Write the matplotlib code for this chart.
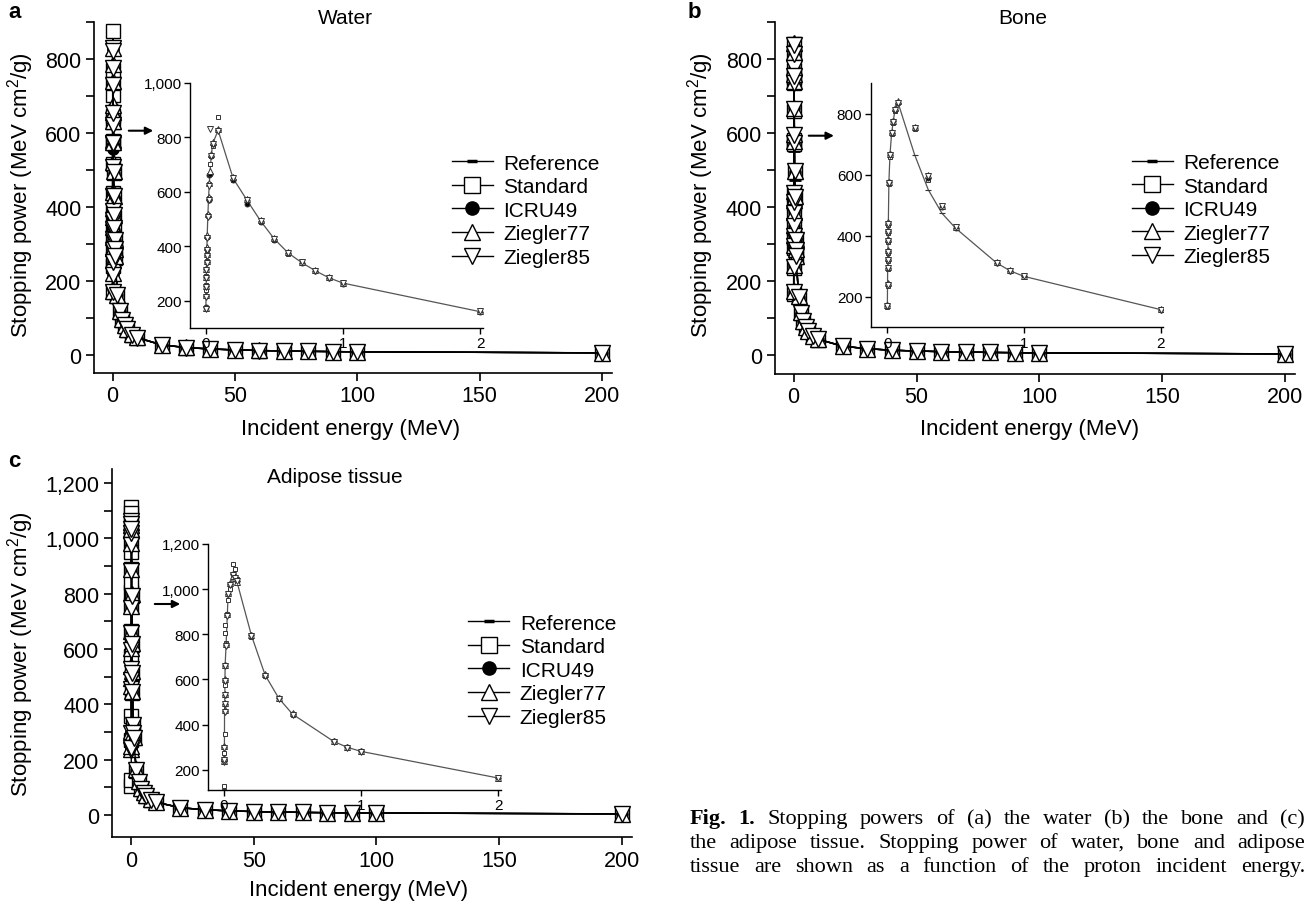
import matplotlib
matplotlib.use('Agg')
from matplotlib import pyplot as plt
from matplotlib.lines import Line2D
from matplotlib.patches import FancyArrowPatch
from matplotlib.ticker import MultipleLocator, FuncFormatter

plt.rcParams['font.family'] = ['Liberation Sans', 'DejaVu Sans']
plt.rcParams['mathtext.fontset'] = 'custom'
plt.rcParams['mathtext.rm'] = 'Liberation Sans'
plt.rcParams['mathtext.default'] = 'regular'

W, H = 1313, 904
FS_TICK = 15.5
FS_LAB = 16
FS_LEG = 15
FS_TITLE = 15
FS_IN = 11

SERIES = ["Reference", "Standard", "ICRU49", "Ziegler77", "Ziegler85"]

# ---- water (MeV, MeV cm2/g)
water_E = [0.001, 0.002, 0.003, 0.004, 0.005, 0.006, 0.007, 0.008, 0.01, 0.015, 0.02, 0.025, 0.03,
           0.04, 0.05, 0.09, 0.2, 0.3, 0.4, 0.5, 0.6, 0.7, 0.8, 0.9, 1, 2, 3, 4, 5, 6, 8, 10,
           20, 30, 40, 50, 60, 70, 80, 90, 100, 200]
water_ref = [177, 218, 254, 286, 315, 342, 367, 390, 433, 511, 573, 625, 667, 732, 777, 826, 649, 570,
             493, 427, 376, 340, 310, 284, 265, 160, 118, 94, 79, 68, 54, 45.7,
             26.1, 18.8, 14.9, 12.5, 10.8, 9.6, 8.6, 7.9, 7.3, 4.5]
water_std = [170, 240, 258, 290, 318, 345, 370, 392, 436, 515, 578, 628, 702, 733, 770, 876, 645, 572,
             490, 425, 372, 337, 308, 282, 262, 158, 116, 92, 78, 67, 53, 45,
             25.8, 18.6, 14.8, 12.4, 10.7, 9.5, 8.5, 7.8, 7.2, 4.4]
water_icru = [176, 218, 254, 286, 315, 342, 367, 390, 433, 511, 570, 661, 667, 732, 777, 826, 645, 557,
              490, 425, 374, 338, 309, 283, 263, 160, 117, 93, 78.5, 67.5, 54, 45.6,
              26, 18.7, 14.9, 12.4, 10.8, 9.6, 8.6, 7.9, 7.3, 4.5]
water_z77 = [172, 220, 256, 288, 318, 346, 372, 396, 440, 520, 580, 631, 675, 740, 785, 830, 655, 575,
             495, 430, 378, 342, 312, 286, 266, 162, 119, 95, 80, 69, 55, 46.5,
             26.5, 19, 15.1, 12.6, 10.9, 9.7, 8.7, 8, 7.4, 4.6]
water_z85 = [170, 215, 250, 283, 312, 340, 365, 388, 430, 508, 570, 622, 830, 730, 775, 822, 652, 572,
             494, 428, 377, 341, 311, 285, 267, 161, 118, 94, 79, 68, 54, 45.8,
             26.2, 18.9, 15, 12.5, 10.8, 9.6, 8.6, 7.9, 7.3, 4.5]

# ---- bone
bone_E = [0.001, 0.002, 0.003, 0.004, 0.005, 0.006, 0.007, 0.008, 0.012, 0.02, 0.032, 0.044, 0.056,
          0.08, 0.2, 0.3, 0.4, 0.5, 0.8, 0.9, 1, 2, 3, 4, 5, 6, 8, 10,
          20, 30, 40, 50, 60, 70, 80, 90, 100, 200]
bone_ref = [171, 240, 295, 322, 349, 384, 415, 440, 575, 666, 737, 775, 813, 835, 666, 551, 474, 425,
            311, 285, 267, 158, 115, 92, 77, 66, 52, 43.5,
            25, 18, 14.2, 11.9, 10.3, 9.1, 8.2, 7.5, 6.9, 4.3]
bone_std = [165, 235, 290, 318, 345, 380, 410, 436, 570, 660, 735, 770, 810, 840, 750, 582, 494, 428,
            310, 284, 266, 157, 114, 91, 76, 65.5, 51.5, 43,
            24.8, 17.9, 14.1, 11.8, 10.2, 9.0, 8.1, 7.4, 6.8, 4.2]
bone_icru = [172, 242, 296, 324, 350, 386, 416, 442, 576, 667, 738, 776, 814, 834, 752, 590, 495, 427,
             311, 285, 267, 158, 115, 92, 77, 66, 52, 43.5,
             25, 18, 14.2, 11.9, 10.3, 9.1, 8.2, 7.5, 6.9, 4.3]
bone_z77 = [174, 244, 298, 326, 352, 388, 418, 444, 578, 668, 740, 778, 818, 842, 758, 598, 498, 430,
            313, 287, 269, 160, 116, 93, 78, 67, 53, 44,
            25.3, 18.2, 14.4, 12, 10.4, 9.2, 8.3, 7.6, 7, 4.4]
bone_z85 = [170, 238, 294, 321, 348, 383, 414, 439, 574, 665, 736, 774, 812, 836, 754, 595, 497, 428,
            311, 285, 267, 158, 115, 92, 77, 66, 52, 43.5,
            25, 18, 14.2, 11.9, 10.3, 9.1, 8.2, 7.5, 6.9, 4.3]

# ---- adipose tissue
adip_E = [0.001, 0.002, 0.003, 0.004, 0.005, 0.006, 0.007, 0.008, 0.015, 0.024, 0.03, 0.044, 0.068,
          0.08, 0.092, 0.2, 0.3, 0.4, 0.5, 0.8, 0.9, 1, 2, 3, 4, 5, 6, 8, 10,
          20, 30, 40, 50, 60, 70, 80, 90, 100, 200]
adip_ref = [237, 244, 299, 458, 491, 531, 597, 660, 751, 884, 979, 1023, 1067, 1053, 1038, 795, 619,
            516, 446, 325, 299, 281, 163, 121, 97, 81, 70, 56, 47,
            27, 19.4, 15.4, 12.9, 11.2, 9.9, 8.9, 8.2, 7.6, 4.7]
adip_std = [105, 128, 273, 359, 575, 666, 807, 840, 760, 890, 950, 1000, 1112, 1090, 1045, 790, 615,
            512, 442, 322, 297, 279, 160, 119, 95, 80, 69, 55, 46.5,
            26.7, 19.2, 15.3, 12.8, 11.1, 9.8, 8.8, 8.1, 7.5, 4.6]
adip_icru = [238, 246, 300, 460, 493, 533, 598, 662, 752, 885, 980, 1024, 1066, 1052, 1037, 796, 620,
             517, 447, 326, 300, 282, 164, 121, 97, 81, 70, 56, 47,
             27, 19.4, 15.4, 12.9, 11.2, 9.9, 8.9, 8.2, 7.6, 4.7]
adip_z77 = [240, 250, 305, 465, 497, 537, 602, 665, 755, 888, 982, 1028, 1060, 1048, 1032, 798, 622,
            519, 449, 327, 301, 283, 165, 122, 98, 82, 71, 57, 47.5,
            27.3, 19.6, 15.6, 13, 11.3, 10, 9, 8.3, 7.7, 4.8]
adip_z85 = [236, 242, 297, 456, 489, 529, 595, 658, 749, 882, 977, 1020, 1062, 1050, 1035, 793, 617,
            514, 444, 324, 298, 280, 162, 120, 96, 80.5, 69.5, 55.5, 46.8,
            26.9, 19.3, 15.3, 12.8, 11.1, 9.8, 8.8, 8.1, 7.5, 4.6]

caption = ["Fig. 1. Stopping powers of (a) the water (b) the bone and (c)",
           "the adipose tissue. Stopping power of water, bone and adipose",
           "tissue are shown as a function of the proton incident energy."]

main_style = {
    "Reference": dict(marker='_', ms=8, mew=2),
    "Standard": dict(marker='s', ms=9.5, mfc='white', mew=1),
    "ICRU49": dict(marker='o', ms=8, mfc='black', mew=1),
    "Ziegler77": dict(marker='^', ms=11, mfc='white', mew=1),
    "Ziegler85": dict(marker='v', ms=11, mfc='white', mew=1),
}
inset_style = {
    "Reference": dict(marker='_', ms=4, mew=0.8),
    "Standard": dict(marker='s', ms=3.4, mfc='white', mew=0.7),
    "ICRU49": dict(marker='o', ms=3.6, mfc='black', mew=0.7),
    "Ziegler77": dict(marker='^', ms=4.5, mfc='white', mew=0.7),
    "Ziegler85": dict(marker='v', ms=4.5, mfc='white', mew=0.7),
}
legend_style = {
    "Reference": dict(marker='_', ms=7, mew=2.5),
    "Standard": dict(marker='s', ms=11, mfc='white', mew=1),
    "ICRU49": dict(marker='o', ms=9.5, mfc='black', mew=1),
    "Ziegler77": dict(marker='^', ms=11.5, mfc='white', mew=1),
    "Ziegler85": dict(marker='v', ms=11.5, mfc='white', mew=1),
}

comma = FuncFormatter(lambda v, p: '{:,.0f}'.format(v))


def px_axes(fig, left, top, right, bottom):
    return fig.add_axes([left / W, 1 - bottom / H, (right - left) / W, (bottom - top) / H])


def style_axes(ax, size, length, lw):
    for s in ['top', 'right']:
        ax.spines[s].set_visible(False)
    for s in ['left', 'bottom']:
        ax.spines[s].set_linewidth(lw)
    ax.tick_params(which='both', direction='out', length=length, width=lw, labelsize=size, pad=3)


panels = [
    dict(E=water_E, data=[water_ref, water_std, water_icru, water_z77, water_z85],
         main=(94, 22.7, 611.6, 374), xlim=(-7.6, 204), ylim=(-50, 900),
         inset=(190, 84, 482.8, 329), ixlim=(-0.115, 2.02), iylim=(100, 1000),
         title="Water", title_px=(345, 18), leg=(451.7, 154.5), arrow=(126, 156, 131.7),
         letter="a", letter_px=(8, 12), ylab=(-0.112, 0.51), xlab=(0.495, -0.128)),
    dict(E=bone_E, data=[bone_ref, bone_std, bone_icru, bone_z77, bone_z85],
         main=(774.5, 22.7, 1295, 375), xlim=(-7.8, 204), ylim=(-50, 900),
         inset=(870.7, 84.3, 1163.4, 328.3), ixlim=(-0.121, 2.02), iylim=(100, 900),
         title="Bone", title_px=(1023, 18), leg=(1131.7, 154), arrow=(806, 836.7, 136.7),
         letter="b", letter_px=(688, 12), ylab=(-0.112, 0.51), xlab=(0.49, -0.125)),
    dict(E=adip_E, data=[adip_ref, adip_std, adip_icru, adip_z77, adip_z85],
         main=(111.9, 470, 631.5, 838.3), xlim=(-7.9, 204), ylim=(-80, 1250),
         inset=(208.1, 545, 501, 791), ixlim=(-0.116, 2.02), iylim=(110, 1200),
         title="Adipose tissue", title_px=(335, 478), leg=(468.3, 614.5), arrow=(152, 183, 605),
         letter="c", letter_px=(8, 462), ylab=(-0.146, 0.5), xlab=(0.474, -0.114)),
]

fig = plt.figure(figsize=(W / 100, H / 100), dpi=100)

for p in panels:
    E = p['E']
    ax = px_axes(fig, *p['main'])
    style_axes(ax, FS_TICK, 6, 1.2)
    for name, vals in zip(SERIES, p['data']):
        ax.plot(E, vals, color='k', lw=1, mec='k', clip_on=False, **main_style[name])
    ax.set_xlim(*p['xlim'])
    ax.set_ylim(*p['ylim'])
    ax.set_xticks([0, 50, 100, 150, 200])
    ax.yaxis.set_minor_locator(MultipleLocator(100))
    ax.set_yticks(range(0, int(p['ylim'][1]) + 1, 200))
    ax.yaxis.set_major_formatter(comma)
    ax.set_ylabel("Stopping power (MeV cm$^2$/g)", fontsize=FS_LAB)
    ax.yaxis.set_label_coords(*p['ylab'])
    ax.set_xlabel("Incident energy (MeV)", fontsize=FS_LAB)
    ax.xaxis.set_label_coords(*p['xlab'])

    handles = [Line2D([], [], color='k', lw=1, mec='k', **legend_style[n]) for n in SERIES]
    ax.legend(handles, SERIES, loc='upper left', bbox_to_anchor=(p['leg'][0] / W, 1 - p['leg'][1] / H),
              bbox_transform=fig.transFigure, frameon=False, fontsize=FS_LEG, borderpad=0,
              borderaxespad=0, handlelength=1.97, handletextpad=0.5, labelspacing=0.22)

    # inset: energies up to 2 MeV
    n = sum(1 for e in E if e <= 2)
    ins = px_axes(fig, *p['inset'])
    ins.set_facecolor('none')
    style_axes(ins, FS_IN, 4, 1)
    ins.tick_params(pad=2)
    for name, vals in zip(SERIES, p['data']):
        if name == "Reference":
            ins.plot(E[:n], vals[:n], color='#555555', lw=0.9, mec='#333333', **inset_style[name])
        else:
            ins.plot(E[:n], vals[:n], ls='none', mec='#333333', **inset_style[name])
    ins.set_xlim(*p['ixlim'])
    ins.set_ylim(*p['iylim'])
    ins.set_xticks([0, 1, 2])
    ins.set_yticks(range(200, int(p['iylim'][1]) + 1, 200))
    ins.yaxis.set_major_formatter(comma)

    x0, x1, ya = p['arrow']
    fig.add_artist(FancyArrowPatch((x0 / W, 1 - ya / H), (x1 / W, 1 - ya / H),
                                   transform=fig.transFigure, arrowstyle='-|>',
                                   mutation_scale=11, color='k', lw=1.5))
    fig.text(p['title_px'][0] / W, 1 - p['title_px'][1] / H, p['title'], fontsize=FS_TITLE,
             ha='center', va='center')
    fig.text(p['letter_px'][0] / W, 1 - p['letter_px'][1] / H, p['letter'], fontsize=16,
             fontweight='bold', ha='left', va='center')

# justified caption, serif
renderer = fig.canvas.get_renderer()
cap_x0, cap_x1 = 690, 1305
cap_base = [824, 848, 872]
for li, line in enumerate(caption):
    words = line.split(' ')
    texts = []
    for wi, w in enumerate(words):
        bold = (li == 0 and wi < 2)
        texts.append(fig.text(0, 1 - cap_base[li] / H, w, fontsize=16, family='Liberation Serif',
                              fontweight='bold' if bold else 'normal', va='baseline', ha='left'))
    widths = [t.get_window_extent(renderer).width for t in texts]
    gap = (cap_x1 - cap_x0 - sum(widths)) / (len(words) - 1)
    x = cap_x0
    for t, wd in zip(texts, widths):
        t.set_x(x / W)
        x += wd + gap

fig.savefig('out.png', dpi=100)
